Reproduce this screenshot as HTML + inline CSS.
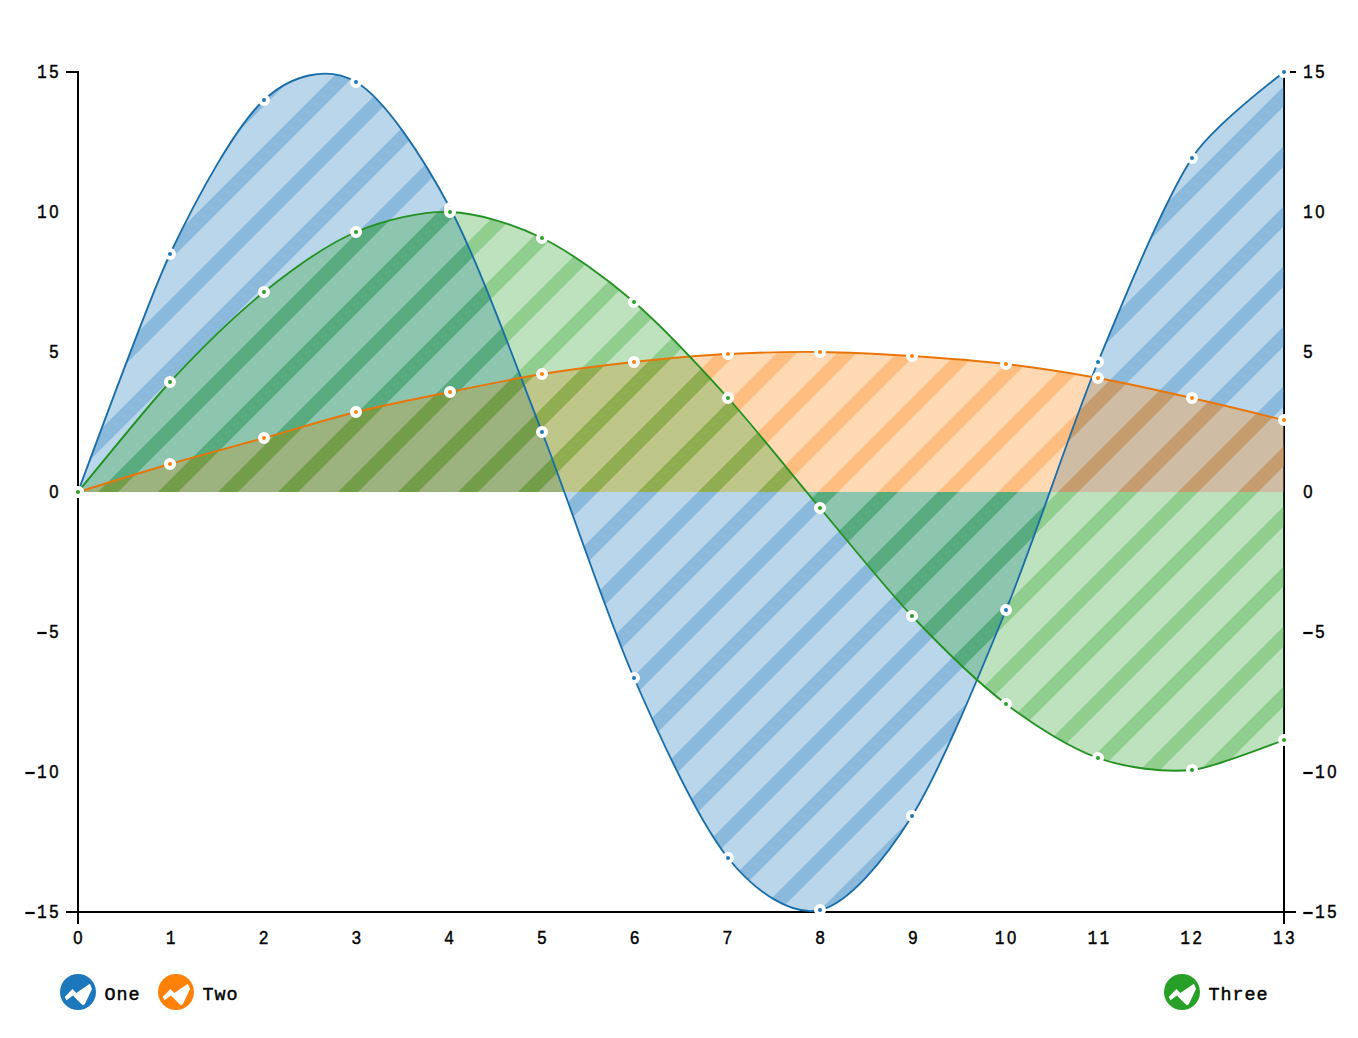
<!DOCTYPE html>
<html><head><meta charset="utf-8"><title>Area</title>
<style>
html,body{margin:0;padding:0;background:#fff;}
svg{display:block;}
text{font-family:"Liberation Mono",monospace;font-size:20px;fill:#000;}
text.lg{font-size:18.4px;letter-spacing:0.96px;stroke:#000;stroke-width:0.45px;}
text.s{font-family:"Liberation Sans",sans-serif;font-size:18.5px;stroke:#000;stroke-width:0.45px;}
</style></head><body>
<svg width="1358" height="1038" viewBox="0 0 1358 1038">
<rect width="1358" height="1038" fill="#fff"/>
<defs>
<path id="stripes" d="M-1100,1100 L100,-100 M-1040,1100 L160,-100 M-980,1100 L220,-100 M-920,1100 L280,-100 M-860,1100 L340,-100 M-800,1100 L400,-100 M-740,1100 L460,-100 M-680,1100 L520,-100 M-620,1100 L580,-100 M-560,1100 L640,-100 M-500,1100 L700,-100 M-440,1100 L760,-100 M-380,1100 L820,-100 M-320,1100 L880,-100 M-260,1100 L940,-100 M-200,1100 L1000,-100 M-140,1100 L1060,-100 M-80,1100 L1120,-100 M-20,1100 L1180,-100 M40,1100 L1240,-100 M100,1100 L1300,-100 M160,1100 L1360,-100 M220,1100 L1420,-100 M280,1100 L1480,-100 M340,1100 L1540,-100 M400,1100 L1600,-100 M460,1100 L1660,-100 M520,1100 L1720,-100 M580,1100 L1780,-100 M640,1100 L1840,-100 M700,1100 L1900,-100 M760,1100 L1960,-100 M820,1100 L2020,-100 M880,1100 L2080,-100 M940,1100 L2140,-100 M1000,1100 L2200,-100 M1060,1100 L2260,-100 M1120,1100 L2320,-100 M1180,1100 L2380,-100 M1240,1100 L2440,-100" fill="none" stroke-width="14.142"/>
<clipPath id="cOne"><path d="M78,492Q151.4,293.2,170,254C197.9,195.2,236.1,125.8,264,100S328.1,65.8,356,82S422.1,155.5,450,208S514.4,361.5,542,432S606.1,614.1,634,678S700.1,823.2,728,858S792.4,916.3,820,910S884.1,861,912,816S978.1,678.1,1006,610S1070.1,429.8,1098,362S1164.1,201.5,1192,158Q1210.6,129,1284,72L1284,492 L78,492 Z"/></clipPath>
<clipPath id="cTwo"><path d="M78,492Q151.4,469.4,170,464C197.9,455.9,236.1,445.8,264,438S328.1,418.9,356,412S422.1,397.7,450,392S514.4,378.5,542,374S606.1,365,634,362S700.1,355.5,728,354S792.4,351.7,820,352S884.1,354.2,912,356S978.1,360.7,1006,364S1070.1,372.9,1098,378S1164.1,391.7,1192,398Q1210.6,402.2,1284,420L1284,492 L78,492 Z"/></clipPath>
<clipPath id="cThree"><path d="M78,492Q151.4,402,170,382C197.9,352,236.1,314.5,264,292S328.1,244,356,232S422.1,211.1,450,212S514.4,224.5,542,238S606.1,278,634,302S700.1,367.1,728,398S792.4,475.3,820,508S884.1,586.6,912,616S978.1,682.7,1006,704S1070.1,748.1,1098,758S1164.1,772.7,1192,770Q1210.6,768.2,1284,740L1284,492 L78,492 Z"/></clipPath>
<clipPath id="plot"><rect x="78" y="71" width="1206" height="842"/></clipPath>
</defs>
<path d="M66,72H78V924" stroke="#000" stroke-width="2" fill="none"/>
<path d="M1296,72H1284V924" stroke="#000" stroke-width="2" fill="none"/>
<path d="M66,912H1296" stroke="#000" stroke-width="2" fill="none"/>
<g clip-path="url(#plot)">
<path d="M78,492Q151.4,293.2,170,254C197.9,195.2,236.1,125.8,264,100S328.1,65.8,356,82S422.1,155.5,450,208S514.4,361.5,542,432S606.1,614.1,634,678S700.1,823.2,728,858S792.4,916.3,820,910S884.1,861,912,816S978.1,678.1,1006,610S1070.1,429.8,1098,362S1164.1,201.5,1192,158Q1210.6,129,1284,72L1284,492 L78,492 Z" fill="#1c78bb" fill-opacity="0.3"/>
<g clip-path="url(#cOne)"><use href="#stripes" stroke="#1c78bb" stroke-opacity="0.3"/></g>
<path d="M78,492Q151.4,469.4,170,464C197.9,455.9,236.1,445.8,264,438S328.1,418.9,356,412S422.1,397.7,450,392S514.4,378.5,542,374S606.1,365,634,362S700.1,355.5,728,354S792.4,351.7,820,352S884.1,354.2,912,356S978.1,360.7,1006,364S1070.1,372.9,1098,378S1164.1,391.7,1192,398Q1210.6,402.2,1284,420L1284,492 L78,492 Z" fill="#ff8108" fill-opacity="0.3"/>
<g clip-path="url(#cTwo)"><use href="#stripes" stroke="#ff8108" stroke-opacity="0.3"/></g>
<path d="M78,492Q151.4,402,170,382C197.9,352,236.1,314.5,264,292S328.1,244,356,232S422.1,211.1,450,212S514.4,224.5,542,238S606.1,278,634,302S700.1,367.1,728,398S792.4,475.3,820,508S884.1,586.6,912,616S978.1,682.7,1006,704S1070.1,748.1,1098,758S1164.1,772.7,1192,770Q1210.6,768.2,1284,740L1284,492 L78,492 Z" fill="#28a027" fill-opacity="0.3"/>
<g clip-path="url(#cThree)"><use href="#stripes" stroke="#28a027" stroke-opacity="0.3"/></g>
<path d="M78,492Q151.4,293.2,170,254C197.9,195.2,236.1,125.8,264,100S328.1,65.8,356,82S422.1,155.5,450,208S514.4,361.5,542,432S606.1,614.1,634,678S700.1,823.2,728,858S792.4,916.3,820,910S884.1,861,912,816S978.1,678.1,1006,610S1070.1,429.8,1098,362S1164.1,201.5,1192,158Q1210.6,129,1284,72" fill="none" stroke="#196daa" stroke-width="1.85" stroke-linejoin="round"/>
<path d="M78,492Q151.4,469.4,170,464C197.9,455.9,236.1,445.8,264,438S328.1,418.9,356,412S422.1,397.7,450,392S514.4,378.5,542,374S606.1,365,634,362S700.1,355.5,728,354S792.4,351.7,820,352S884.1,354.2,912,356S978.1,360.7,1006,364S1070.1,372.9,1098,378S1164.1,391.7,1192,398Q1210.6,402.2,1284,420" fill="none" stroke="#e87507" stroke-width="1.85" stroke-linejoin="round"/>
<path d="M78,492Q151.4,402,170,382C197.9,352,236.1,314.5,264,292S328.1,244,356,232S422.1,211.1,450,212S514.4,224.5,542,238S606.1,278,634,302S700.1,367.1,728,398S792.4,475.3,820,508S884.1,586.6,912,616S978.1,682.7,1006,704S1070.1,748.1,1098,758S1164.1,772.7,1192,770Q1210.6,768.2,1284,740" fill="none" stroke="#249223" stroke-width="1.85" stroke-linejoin="round"/>
</g>
<circle cx="78" cy="492" r="4" fill="#1c78bb" stroke="#fff" stroke-width="4"/>
<circle cx="170" cy="254" r="4" fill="#1c78bb" stroke="#fff" stroke-width="4"/>
<circle cx="264" cy="100" r="4" fill="#1c78bb" stroke="#fff" stroke-width="4"/>
<circle cx="356" cy="82" r="4" fill="#1c78bb" stroke="#fff" stroke-width="4"/>
<circle cx="450" cy="208" r="4" fill="#1c78bb" stroke="#fff" stroke-width="4"/>
<circle cx="542" cy="432" r="4" fill="#1c78bb" stroke="#fff" stroke-width="4"/>
<circle cx="634" cy="678" r="4" fill="#1c78bb" stroke="#fff" stroke-width="4"/>
<circle cx="728" cy="858" r="4" fill="#1c78bb" stroke="#fff" stroke-width="4"/>
<circle cx="820" cy="910" r="4" fill="#1c78bb" stroke="#fff" stroke-width="4"/>
<circle cx="912" cy="816" r="4" fill="#1c78bb" stroke="#fff" stroke-width="4"/>
<circle cx="1006" cy="610" r="4" fill="#1c78bb" stroke="#fff" stroke-width="4"/>
<circle cx="1098" cy="362" r="4" fill="#1c78bb" stroke="#fff" stroke-width="4"/>
<circle cx="1192" cy="158" r="4" fill="#1c78bb" stroke="#fff" stroke-width="4"/>
<circle cx="1284" cy="72" r="4" fill="#1c78bb" stroke="#fff" stroke-width="4"/>
<circle cx="78" cy="492" r="4" fill="#ff8108" stroke="#fff" stroke-width="4"/>
<circle cx="170" cy="464" r="4" fill="#ff8108" stroke="#fff" stroke-width="4"/>
<circle cx="264" cy="438" r="4" fill="#ff8108" stroke="#fff" stroke-width="4"/>
<circle cx="356" cy="412" r="4" fill="#ff8108" stroke="#fff" stroke-width="4"/>
<circle cx="450" cy="392" r="4" fill="#ff8108" stroke="#fff" stroke-width="4"/>
<circle cx="542" cy="374" r="4" fill="#ff8108" stroke="#fff" stroke-width="4"/>
<circle cx="634" cy="362" r="4" fill="#ff8108" stroke="#fff" stroke-width="4"/>
<circle cx="728" cy="354" r="4" fill="#ff8108" stroke="#fff" stroke-width="4"/>
<circle cx="820" cy="352" r="4" fill="#ff8108" stroke="#fff" stroke-width="4"/>
<circle cx="912" cy="356" r="4" fill="#ff8108" stroke="#fff" stroke-width="4"/>
<circle cx="1006" cy="364" r="4" fill="#ff8108" stroke="#fff" stroke-width="4"/>
<circle cx="1098" cy="378" r="4" fill="#ff8108" stroke="#fff" stroke-width="4"/>
<circle cx="1192" cy="398" r="4" fill="#ff8108" stroke="#fff" stroke-width="4"/>
<circle cx="1284" cy="420" r="4" fill="#ff8108" stroke="#fff" stroke-width="4"/>
<circle cx="78" cy="492" r="4" fill="#28a027" stroke="#fff" stroke-width="4"/>
<circle cx="170" cy="382" r="4" fill="#28a027" stroke="#fff" stroke-width="4"/>
<circle cx="264" cy="292" r="4" fill="#28a027" stroke="#fff" stroke-width="4"/>
<circle cx="356" cy="232" r="4" fill="#28a027" stroke="#fff" stroke-width="4"/>
<circle cx="450" cy="212" r="4" fill="#28a027" stroke="#fff" stroke-width="4"/>
<circle cx="542" cy="238" r="4" fill="#28a027" stroke="#fff" stroke-width="4"/>
<circle cx="634" cy="302" r="4" fill="#28a027" stroke="#fff" stroke-width="4"/>
<circle cx="728" cy="398" r="4" fill="#28a027" stroke="#fff" stroke-width="4"/>
<circle cx="820" cy="508" r="4" fill="#28a027" stroke="#fff" stroke-width="4"/>
<circle cx="912" cy="616" r="4" fill="#28a027" stroke="#fff" stroke-width="4"/>
<circle cx="1006" cy="704" r="4" fill="#28a027" stroke="#fff" stroke-width="4"/>
<circle cx="1098" cy="758" r="4" fill="#28a027" stroke="#fff" stroke-width="4"/>
<circle cx="1192" cy="770" r="4" fill="#28a027" stroke="#fff" stroke-width="4"/>
<circle cx="1284" cy="740" r="4" fill="#28a027" stroke="#fff" stroke-width="4"/>
<text transform="translate(42,77.5) scale(0.78,1)" text-anchor="middle" stroke="#000" stroke-width="0.55">1</text>
<text transform="translate(54,77.5) scale(0.9,1)" text-anchor="middle" class="s">5</text>
<text transform="translate(1308,77.5) scale(0.78,1)" text-anchor="middle" stroke="#000" stroke-width="0.55">1</text>
<text transform="translate(1320,77.5) scale(0.9,1)" text-anchor="middle" class="s">5</text>
<text transform="translate(42,217.5) scale(0.78,1)" text-anchor="middle" stroke="#000" stroke-width="0.55">1</text>
<text transform="translate(54,217.5) scale(0.9,1)" text-anchor="middle" class="s">0</text>
<text transform="translate(1308,217.5) scale(0.78,1)" text-anchor="middle" stroke="#000" stroke-width="0.55">1</text>
<text transform="translate(1320,217.5) scale(0.9,1)" text-anchor="middle" class="s">0</text>
<text transform="translate(54,357.5) scale(0.9,1)" text-anchor="middle" class="s">5</text>
<text transform="translate(1308,357.5) scale(0.9,1)" text-anchor="middle" class="s">5</text>
<text transform="translate(54,497.5) scale(0.9,1)" text-anchor="middle" class="s">0</text>
<text transform="translate(1308,497.5) scale(0.9,1)" text-anchor="middle" class="s">0</text>
<path d="M37.3,633h9.4" stroke="#000" stroke-width="2.2" fill="none"/>
<text transform="translate(54,637.5) scale(0.9,1)" text-anchor="middle" class="s">5</text>
<path d="M1303.3,633h9.4" stroke="#000" stroke-width="2.2" fill="none"/>
<text transform="translate(1320,637.5) scale(0.9,1)" text-anchor="middle" class="s">5</text>
<path d="M25.3,773h9.4" stroke="#000" stroke-width="2.2" fill="none"/>
<text transform="translate(42,777.5) scale(0.78,1)" text-anchor="middle" stroke="#000" stroke-width="0.55">1</text>
<text transform="translate(54,777.5) scale(0.9,1)" text-anchor="middle" class="s">0</text>
<path d="M1303.3,773h9.4" stroke="#000" stroke-width="2.2" fill="none"/>
<text transform="translate(1320,777.5) scale(0.78,1)" text-anchor="middle" stroke="#000" stroke-width="0.55">1</text>
<text transform="translate(1332,777.5) scale(0.9,1)" text-anchor="middle" class="s">0</text>
<path d="M25.3,913h9.4" stroke="#000" stroke-width="2.2" fill="none"/>
<text transform="translate(42,917.5) scale(0.78,1)" text-anchor="middle" stroke="#000" stroke-width="0.55">1</text>
<text transform="translate(54,917.5) scale(0.9,1)" text-anchor="middle" class="s">5</text>
<path d="M1303.3,913h9.4" stroke="#000" stroke-width="2.2" fill="none"/>
<text transform="translate(1320,917.5) scale(0.78,1)" text-anchor="middle" stroke="#000" stroke-width="0.55">1</text>
<text transform="translate(1332,917.5) scale(0.9,1)" text-anchor="middle" class="s">5</text>
<text transform="translate(78,944) scale(0.9,1)" text-anchor="middle" class="s">0</text>
<text transform="translate(170.77,944) scale(0.78,1)" text-anchor="middle" stroke="#000" stroke-width="0.55">1</text>
<text transform="translate(263.54,944) scale(0.9,1)" text-anchor="middle" class="s">2</text>
<text transform="translate(356.31,944) scale(0.9,1)" text-anchor="middle" class="s">3</text>
<text transform="translate(449.08,944) scale(0.9,1)" text-anchor="middle" class="s">4</text>
<text transform="translate(541.85,944) scale(0.9,1)" text-anchor="middle" class="s">5</text>
<text transform="translate(634.62,944) scale(0.9,1)" text-anchor="middle" class="s">6</text>
<text transform="translate(727.38,944) scale(0.9,1)" text-anchor="middle" class="s">7</text>
<text transform="translate(820.15,944) scale(0.9,1)" text-anchor="middle" class="s">8</text>
<text transform="translate(912.92,944) scale(0.9,1)" text-anchor="middle" class="s">9</text>
<text transform="translate(999.69,944) scale(0.78,1)" text-anchor="middle" stroke="#000" stroke-width="0.55">1</text>
<text transform="translate(1011.69,944) scale(0.9,1)" text-anchor="middle" class="s">0</text>
<text transform="translate(1092.46,944) scale(0.78,1)" text-anchor="middle" stroke="#000" stroke-width="0.55">1</text>
<text transform="translate(1104.46,944) scale(0.78,1)" text-anchor="middle" stroke="#000" stroke-width="0.55">1</text>
<text transform="translate(1185.23,944) scale(0.78,1)" text-anchor="middle" stroke="#000" stroke-width="0.55">1</text>
<text transform="translate(1197.23,944) scale(0.9,1)" text-anchor="middle" class="s">2</text>
<text transform="translate(1278,944) scale(0.78,1)" text-anchor="middle" stroke="#000" stroke-width="0.55">1</text>
<text transform="translate(1290,944) scale(0.9,1)" text-anchor="middle" class="s">3</text>
<g transform="translate(0,0)"><circle cx="78" cy="992" r="18" fill="#1c78bb"/><path d="M64.7,996.9 L72.5,989.1 L76.3,992.9 L89.9,983.8 L92,989.1 L84.8,1004.3 L82.7,1005.2 L72.9,995.6 L66.6,1000.3 Z" fill="#fff"/></g>
<text class="lg" x="104.5" y="1000">One</text>
<g transform="translate(98,0)"><circle cx="78" cy="992" r="18" fill="#ff8108"/><path d="M64.7,996.9 L72.5,989.1 L76.3,992.9 L89.9,983.8 L92,989.1 L84.8,1004.3 L82.7,1005.2 L72.9,995.6 L66.6,1000.3 Z" fill="#fff"/></g>
<text class="lg" x="202.5" y="1000">Two</text>
<g transform="translate(1104,0)"><circle cx="78" cy="992" r="18" fill="#28a027"/><path d="M64.7,996.9 L72.5,989.1 L76.3,992.9 L89.9,983.8 L92,989.1 L84.8,1004.3 L82.7,1005.2 L72.9,995.6 L66.6,1000.3 Z" fill="#fff"/></g>
<text class="lg" x="1208.5" y="1000">Three</text>
</svg>
</body></html>
